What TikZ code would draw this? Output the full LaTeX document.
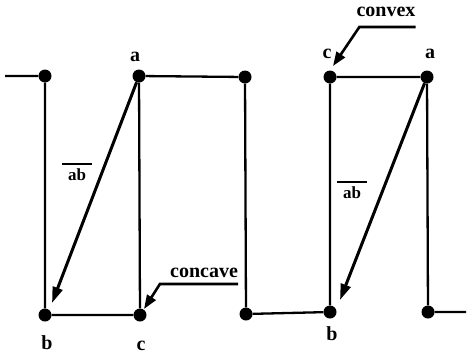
\documentclass[tikz,border=0pt]{standalone}
\usepackage{fontspec}
\setmainfont{Liberation Serif}
\usetikzlibrary{arrows.meta,positioning,calc}

\begin{document}
\begin{tikzpicture}[
    x=1pt, y=-1pt,
    vertex/.style={circle, fill=black, inner sep=0pt, minimum size=13pt},
    edge/.style={line width=2.3pt},
    arrow/.style={-{Triangle[length=16pt,width=10pt]}, line width=3pt},
    leader/.style={-{Triangle[length=14pt,width=10pt]}, line width=2.6pt},
    lbl/.style={font=\bfseries\fontsize{20}{20}\selectfont, inner sep=0pt},
    seglbl/.style={font=\bfseries\fontsize{17}{16}\selectfont, inner sep=0pt, align=center}
]
\useasboundingbox (0,0) rectangle (468,354);

% polygon vertices
\coordinate (start) at (5,76);
\node[vertex] (p1) at (45,76) {};
\node[vertex] (b1) at (45,315) {};
\node[vertex] (c1) at (140,315) {};
\node[vertex] (a1) at (139,76) {};
\node[vertex] (p2) at (245,77) {};
\node[vertex] (p3) at (246,314) {};
\node[vertex] (b2) at (330,312) {};
\node[vertex] (c2) at (330,77) {};
\node[vertex] (a2) at (427,77) {};
\node[vertex] (p4) at (428,312) {};
\coordinate (end) at (466,312);

\draw[edge] (start) -- (p1) -- (b1) -- (c1) -- (a1) -- (p2) -- (p3) -- (b2) -- (c2) -- (a2) -- (p4) -- (end);

% vertex labels
\node[lbl] (la1) at (135,57) {a};
\node[lbl] (lb1) at (47,343) {b};
\node[lbl] (lc1) at (141,346) {c};
\node[lbl] (lc2) at (327,54) {c};
\node[lbl] (la2) at (430,54) {a};
\node[lbl] (lb2) at (332,334) {b};

% segments ab
\coordinate (tip1) at (52,303);
\coordinate (tip2) at (340,300);
\draw[arrow] (a1) -- (tip1);
\draw[arrow] (a2) -- (tip2);
\node[seglbl] (ab1) at (77,172) {\rule{30pt}{2pt}\\ab};
\node[seglbl] (ab2) at (352,190) {\rule{30pt}{2pt}\\ab};

% concave / convex
\node[lbl] (concave) at (204,273) {concave};
\node[lbl] (convex) at (386,12) {convex};
\coordinate (cvtip) at (144,309);
\coordinate (cxtip) at (333,66);
\draw[leader] ([yshift=-6pt]concave.south east) -- ([yshift=-6pt,xshift=-10pt]concave.south west) -- (cvtip);
\draw[leader] ([yshift=-10pt]convex.south east) -- ([yshift=-10pt,xshift=3pt]convex.south west) -- (cxtip);
\end{tikzpicture}
\end{document}
